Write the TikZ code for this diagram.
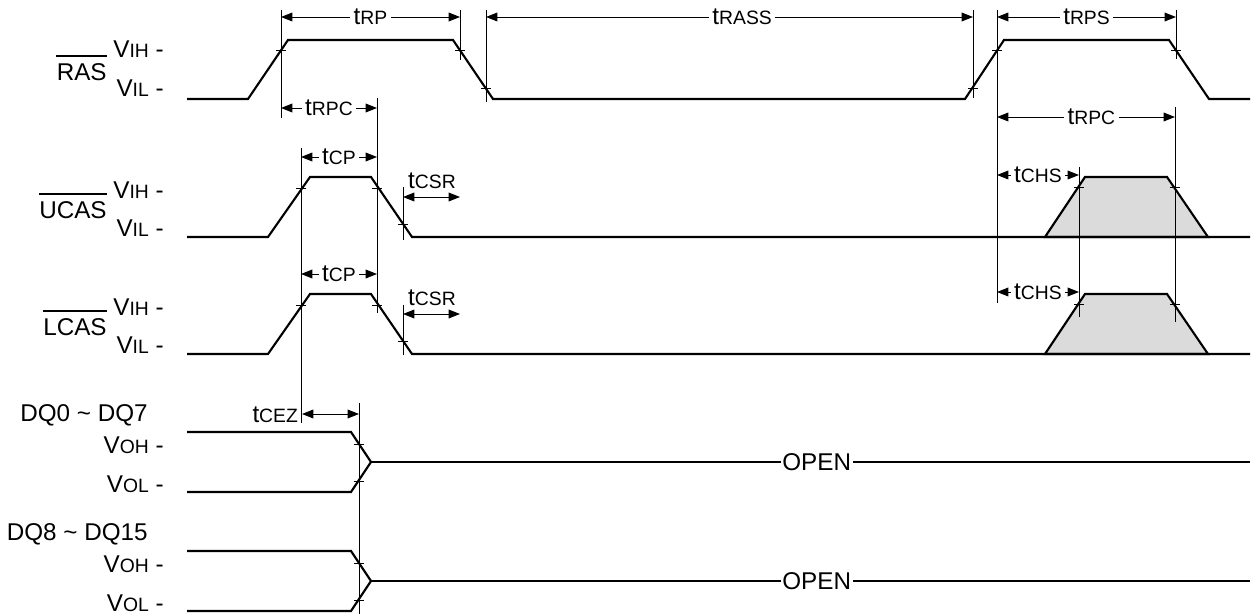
\documentclass[tikz,border=0pt]{standalone}
\usepackage{fontspec}
\setmainfont{Liberation Sans}
\usetikzlibrary{arrows.meta}
\newcommand{\tlab}[1]{t{\fontsize{11}{12}\selectfont #1}}
\newcommand{\vlab}[1]{V{\fontsize{11}{12}\selectfont #1} -}
\tikzset{
	wave/.style={line width=1.2pt},
	guide/.style={line width=0.55pt},
	bar/.style={line width=0.8pt},
	dim/.style={guide,{Triangle[length=6.5pt,width=5pt]}-{Triangle[length=6.5pt,width=5pt]}},
	tlabel/.style={fill=white,inner xsep=2pt,inner ysep=0pt},
	level/.style={anchor=east,inner sep=0pt},
	busy/.style={wave,fill=black!14},
}
\begin{document}
\begin{tikzpicture}[x=0.02cm,y=-0.02cm,font=\fontsize{13.8}{16}\selectfont]
		\useasboundingbox (0,0) rectangle (1254,614);
		% RAS
		\node[level] (ras) at (107,72) {RAS};
		\draw[bar] ([yshift=4pt]ras.north west) -- ([yshift=4pt]ras.north east);
		\node[level] (vihR) at (164,49) {\vlab{IH}};
		\node[level] (vilR) at (164,88) {\vlab{IL}};
		\draw[wave] (187,99) -- (248,99) -- (288,40) -- (453,40) -- (493,99)
			-- (965,99) -- (1004,40) -- (1169,40) -- (1209,99) -- (1250,99);
		% UCAS and LCAS
		\foreach \dy/\nm in {0/U,117/L} {
			\node[level] (cas\nm) at (107,210+\dy) {\nm CAS};
			\draw[bar] ([yshift=4pt]cas\nm.north west) -- ([yshift=4pt]cas\nm.north east);
			\node[level] (vih\nm) at (164,190+\dy) {\vlab{IH}};
			\node[level] (vil\nm) at (164,228+\dy) {\vlab{IL}};
			\filldraw[busy] (1045,237+\dy) -- (1085,177+\dy) -- (1167,177+\dy) -- (1208,237+\dy) -- cycle;
			\draw[wave] (187,237+\dy) -- (268,237+\dy) -- (310,177+\dy) -- (371,177+\dy)
				-- (412,237+\dy) -- (1250,237+\dy);
			\draw[dim] (301,157+\dy) -- node[tlabel] (tcp\nm) {\tlab{CP}} (377,157+\dy);
			\draw[dim] (403,197+\dy) -- (460,197+\dy);
			\node (tcsr\nm) at (432,181+\dy) {\tlab{CSR}};
			\draw[dim] (997,175+\dy) -- node[tlabel] (tchs\nm) {\tlab{CHS}} (1079,175+\dy);
		}
		% DQ0 ~ DQ7 and DQ8 ~ DQ15
		\foreach \dy/\a/\b in {0/0/7,119/8/15} {
			\node[level] (dq\a) at (148,415+\dy) {DQ\a\ \textasciitilde\ DQ\b};
			\node[level] (voh\a) at (164,445+\dy) {\vlab{OH}};
			\node[level] (vol\a) at (164,484+\dy) {\vlab{OL}};
			\draw[wave] (187,432+\dy) -- (351,432+\dy) -- (371,462+\dy) -- (351,492+\dy) -- (187,492+\dy);
			\draw[wave] (371,462+\dy) -- node[pos=.507,fill=white,inner sep=1pt] (open\a) {OPEN} (1250,462+\dy);
		}
		% reference lines
		\draw[guide] (281,10) -- (281,118);
		\draw[guide] (460,10) -- (460,60);
		\draw[guide] (486,10) -- (486,102);
		\draw[guide] (973,10) -- (973,98);
		\draw[guide] (997,10) -- (997,303);
		\draw[guide] (1176,10) -- (1176,59);
		\draw[guide] (1175,107) -- (1175,322);
		\draw[guide] (377,98) -- (377,313);
		\draw[guide] (301,148) -- (301,423);
		\draw[guide] (403,187) -- (403,240);
		\draw[guide] (403,305) -- (403,355);
		\draw[guide] (1079,167) -- (1079,317);
		\draw[guide] (359,403) -- (359,614);
		\foreach \x/\y in {281/50,460/50,486/88,973/88,997/50,1176/50,
				301/188,377/188,403/224,301/305,377/305,403/341,
				1079/187,1175/187,1079/304,1175/304,
				359/444,359/481,359/563,359/600}
			\draw[guide] (\x-5,\y) -- (\x+5,\y);
		% timings
		\draw[dim] (281,17) -- node[tlabel] (trp) {\tlab{RP}} (460,17);
		\draw[dim] (486,17) -- node[tlabel,pos=.526] (trass) {\tlab{RASS}} (973,17);
		\draw[dim] (997,17) -- node[tlabel] (trps) {\tlab{RPS}} (1176,17);
		\draw[dim] (281,108) -- node[tlabel] (trpcA) {\tlab{RPC}} (377,108);
		\draw[dim] (997,117) -- node[tlabel,pos=.53] (trpcB) {\tlab{RPC}} (1175,117);
		\draw[dim] (302,414) -- (359,414);
		\node[anchor=east,inner sep=1pt] (tcez) at (300,415) {\tlab{CEZ}};
	\end{tikzpicture}
\end{document}
